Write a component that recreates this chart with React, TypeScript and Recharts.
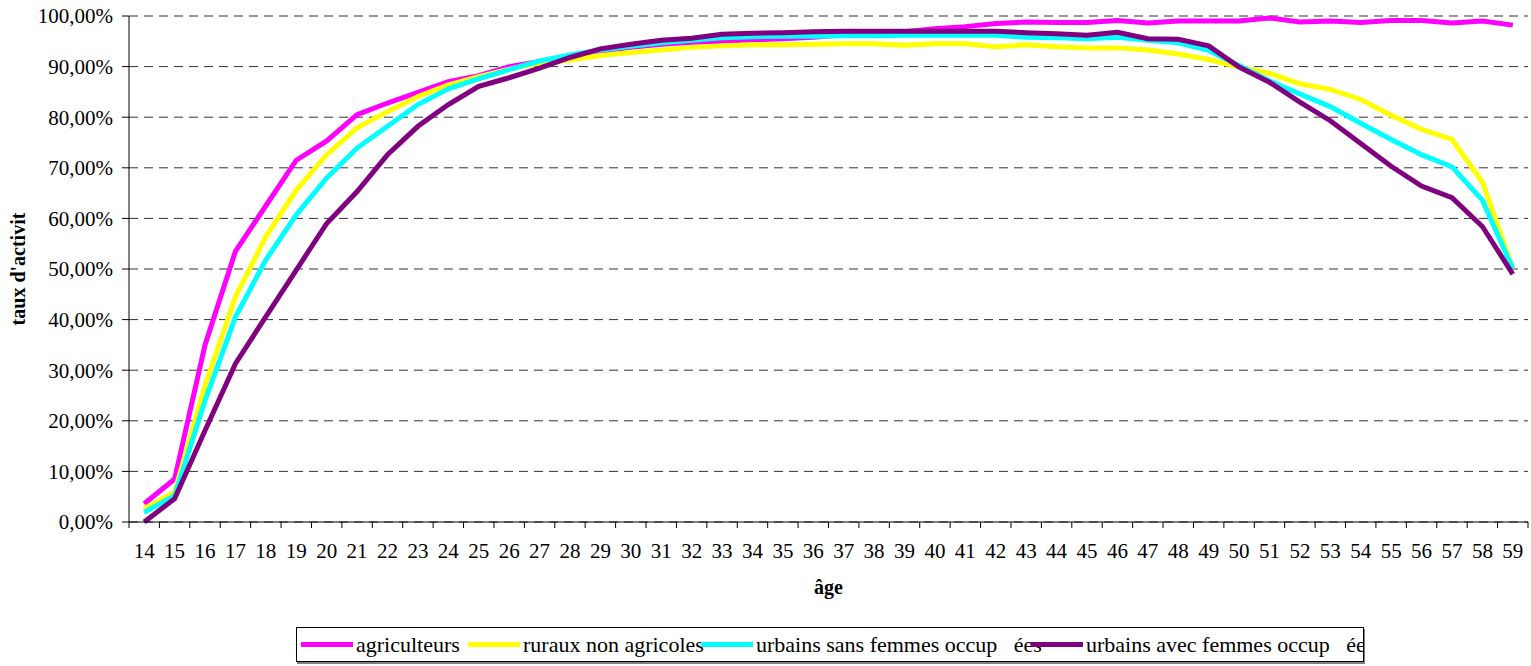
import React from 'react';
import { LineChart, Line, XAxis, YAxis, CartesianGrid } from 'recharts';

const ages = [14, 15, 16, 17, 18, 19, 20, 21, 22, 23, 24, 25, 26, 27, 28, 29, 30, 31, 32, 33, 34, 35, 36, 37, 38, 39, 40, 41, 42, 43, 44, 45, 46, 47, 48, 49, 50, 51, 52, 53, 54, 55, 56, 57, 58, 59];

const agriculteurs = [3.6, 8.5, 35, 53.5, 62.5, 71.5, 75.3, 80.5, 82.8, 84.9, 87.0, 88.2, 90.0, 91.0, 92.0, 93.0, 93.8, 94.4, 94.8, 95.0, 95.3, 95.5, 95.8, 96.3, 96.6, 96.9, 97.5, 97.9, 98.5, 98.8, 98.7, 98.7, 99.1, 98.6, 99.0, 99.0, 99.0, 99.6, 98.8, 99.0, 98.7, 99.1, 99.1, 98.6, 99.0, 98.2];

const rurauxNonAgricoles = [2.7, 5.9, 27, 44.5, 56.4, 65.6, 72.6, 77.9, 81.1, 84.1, 86.4, 88.0, 89.5, 90.7, 91.3, 92.2, 92.8, 93.3, 93.8, 94.1, 94.3, 94.3, 94.4, 94.5, 94.5, 94.2, 94.5, 94.5, 93.9, 94.3, 93.9, 93.7, 93.7, 93.3, 92.5, 91.4, 89.9, 88.7, 86.6, 85.5, 83.5, 80.4, 77.6, 75.6, 67.2, 50.1];

const urbainsSansFemmes = [1.9, 5.2, 24, 40.5, 51.8, 60.7, 68.0, 73.9, 78.2, 82.5, 85.6, 87.6, 89.4, 91.1, 92.3, 93.3, 94.0, 94.7, 95.2, 95.7, 95.9, 96.0, 96.0, 96.1, 96.1, 96.2, 96.2, 96.2, 96.2, 95.8, 95.7, 95.5, 95.8, 95.2, 94.7, 93.2, 90.2, 87.2, 84.6, 82.1, 78.8, 75.6, 72.6, 70.2, 63.6, 50.1];

const urbainsAvecFemmes = [0, 4.6, 18.1, 31.3, 40.6, 49.8, 59.0, 65.3, 72.6, 78.2, 82.5, 86.1, 87.8, 89.7, 91.8, 93.5, 94.4, 95.2, 95.6, 96.4, 96.6, 96.7, 96.9, 97.0, 97.0, 97.0, 97.0, 97.0, 97.0, 96.7, 96.5, 96.2, 96.8, 95.5, 95.4, 94.1, 89.9, 86.9, 83.0, 79.3, 74.8, 70.3, 66.4, 64.1, 58.4, 49.0];

const seriesNames = ['agriculteurs', 'ruraux non agricoles', 'urbains sans femmes occup   ées', 'urbains avec femmes occup   ées'];
const seriesColors = ['#FF00FF', '#FFFF00', '#00FFFF', '#800080'];
const seriesValues = [agriculteurs, rurauxNonAgricoles, urbainsSansFemmes, urbainsAvecFemmes];

const yTicks = [0, 10, 20, 30, 40, 50, 60, 70, 80, 90, 100];
const yTitle = "taux d'activit";
const xTitle = 'âge';

const data = ages.map((age, i) => {
  const row: Record<string, number> = { age };
  seriesValues.forEach((vals, s) => {
    row['s' + s] = vals[i];
  });
  return row;
});

const xTicks: number[] = [];
ages.forEach((a) => {
  xTicks.push(a - 0.5);
  xTicks.push(a);
});
xTicks.push(ages[ages.length - 1] + 0.5);

const FONT = '"Liberation Serif", "Times New Roman", serif';

const XTick = (props: any) => {
  const { x, y, payload } = props;
  const v = payload.value;
  if (Number.isInteger(v)) {
    return (
      <text x={x} y={y + 36} textAnchor="middle" fontFamily={FONT} fontSize={21} fill="#000">
        {v}
      </text>
    );
  }
  return <line x1={x} y1={y} x2={x} y2={y + 6} stroke="#000" strokeWidth={1} />;
};

const fmtPct = (v: number) => v.toFixed(2).replace('.', ',') + '%';

const legendItemLeft = [4, 171, 404, 734];

export default function App() {
  return (
    <div style={{ position: 'absolute', left: 0, top: 0, width: 1531, height: 666, background: '#fff' }}>
      <LineChart
        width={1531}
        height={666}
        data={data}
        margin={{ top: 16, right: 3, bottom: 44, left: 0 }}
      >
        <CartesianGrid vertical={false} stroke="#333" strokeDasharray="9 6" />
        <XAxis
          type="number"
          dataKey="age"
          domain={[13.5, 59.5]}
          ticks={xTicks}
          interval={0}
          tick={<XTick />}
          tickLine={false}
          tickSize={0}
          tickMargin={0}
          height={100}
          axisLine={{ stroke: '#000', strokeWidth: 1 }}
          label={{
            content: (p: any) => {
              const vb = p.viewBox;
              return (
                <text
                  x={vb.x + vb.width / 2}
                  y={vb.y + 72}
                  textAnchor="middle"
                  fontFamily={FONT}
                  fontWeight="bold"
                  fontSize={20}
                  fill="#000"
                >
                  {xTitle}
                </text>
              );
            },
          }}
        />
        <YAxis
          type="number"
          domain={[0, 100]}
          ticks={yTicks}
          interval={0}
          width={129}
          tickSize={7}
          tickMargin={9}
          tickFormatter={fmtPct}
          tick={{ fontFamily: FONT, fontSize: 21, fill: '#000' }}
          tickLine={{ stroke: '#000' }}
          axisLine={{ stroke: '#000', strokeWidth: 1 }}
          label={{
            content: (p: any) => {
              const vb = p.viewBox;
              const cx = vb.x + 18;
              const cy = vb.y + vb.height / 2;
              return (
                <text
                  x={cx}
                  y={cy}
                  transform={`rotate(-90 ${cx} ${cy})`}
                  textAnchor="middle"
                  dominantBaseline="central"
                  fontFamily={FONT}
                  fontWeight="bold"
                  fontSize={20}
                  fill="#000"
                >
                  {yTitle}
                </text>
              );
            },
          }}
        />
        <YAxis
          yAxisId="r"
          orientation="right"
          domain={[0, 100]}
          width={0}
          tick={false}
          tickLine={false}
          axisLine={{ stroke: '#808080', strokeWidth: 2, strokeDasharray: '3 3' }}
        />
        {seriesNames.map((name, s) => (
          <Line
            key={name}
            type="linear"
            dataKey={'s' + s}
            name={name}
            stroke={seriesColors[s]}
            strokeWidth={5}
            dot={false}
            activeDot={false}
            isAnimationActive={false}
          />
        ))}
      </LineChart>
      <div
        style={{
          position: 'absolute',
          left: 296,
          top: 627,
          width: 1068,
          height: 35,
          boxSizing: 'border-box',
          border: '1px solid #000',
          boxShadow: '1px 2px 0 #808080',
          overflow: 'hidden',
          background: '#fff',
          fontFamily: FONT,
          fontSize: 22,
          color: '#000',
        }}
      >
        {seriesNames.map((name, s) => (
          <div
            key={name}
            style={{
              position: 'absolute',
              left: legendItemLeft[s],
              top: 0,
              height: 33,
              display: 'flex',
              alignItems: 'center',
              whiteSpace: 'pre',
            }}
          >
            <div style={{ width: 52, height: 5, background: seriesColors[s], marginRight: 3, flex: 'none' }} />
            <span>{name}</span>
          </div>
        ))}
      </div>
    </div>
  );
}
